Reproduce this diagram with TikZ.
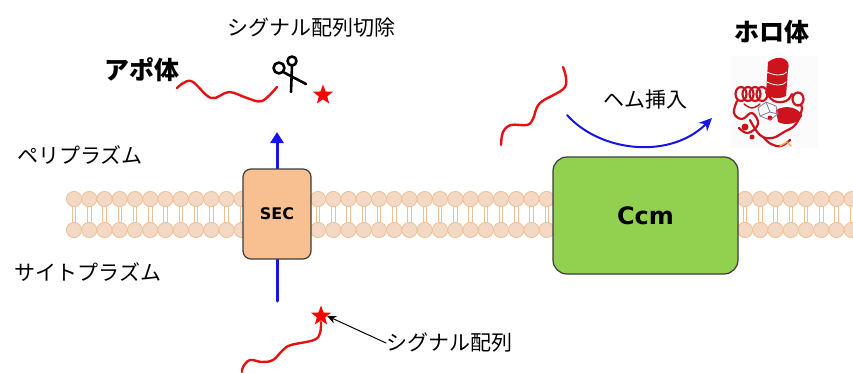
\documentclass[tikz,border=0pt]{standalone}
\usepackage{fontspec}
\newfontfamily\jpfont{Noto Sans CJK JP}
\newfontfamily\latfont{DejaVu Sans}
\usetikzlibrary{arrows.meta,shapes.geometric}

\definecolor{headfill}{RGB}{243,217,195}
\definecolor{headline}{RGB}{238,192,152}
\definecolor{secfill}{RGB}{248,192,144}
\definecolor{ccmfill}{RGB}{146,208,80}
\definecolor{boxline}{RGB}{60,60,60}
\definecolor{pathblue}{RGB}{20,20,235}
\definecolor{chainred}{RGB}{228,18,18}
\definecolor{ribbonred}{RGB}{205,20,30}
\definecolor{hemegray}{RGB}{120,120,165}

\tikzset{
  jplabel/.style={font=\jpfont\fontsize{21}{21}\selectfont, inner sep=0pt},
  jpbold/.style={font=\jpfont\bfseries\fontsize{25}{25}\selectfont, inner sep=0pt},
  protbox/.style={draw=boxline, line width=1.2pt, inner sep=0pt},
  lipidhead/.style={fill=headfill, draw=headline, line width=0.8pt},
  lipidtail/.style={draw=headline, line width=0.7pt},
  chain/.style={chainred, line width=2.4pt},
  signalmark/.style={star, star points=5, star point ratio=2.4, fill=red, draw=none,
    minimum size=21pt, inner sep=0pt},
  transport/.style={pathblue, line width=3pt}
}

\begin{document}
\begin{tikzpicture}[line cap=round,line join=round,x=1pt,y=-1pt]
  \useasboundingbox (0,0) rectangle (853,372);

  % lipid bilayer
  \foreach \i in {0,...,51}{
    \pgfmathsetmacro\hx{74+15.25*\i}
    \draw[lipidtail] (\hx-1.7,206) -- (\hx-1.7,223) (\hx+1.7,206) -- (\hx+1.7,223);
    \draw[lipidhead] (\hx,199) circle (7.6);
    \draw[lipidhead] (\hx,230) circle (7.6);
  }

  % translocation through SEC
  \coordinate (secin) at (277,301);
  \coordinate (secout) at (277,132);
  \draw[transport, -{Triangle[length=11pt,width=13pt]}] (secin) -- (secout);

  \node[protbox, fill=secfill, rounded corners=8pt, minimum width=68pt, minimum height=90pt,
    font=\latfont\bfseries\fontsize{16}{16}\selectfont] (sec) at (277,214) {SEC};
  \node[protbox, fill=ccmfill, rounded corners=14pt, minimum width=185pt, minimum height=117pt,
    font=\latfont\bfseries\fontsize{24}{24}\selectfont] (ccm) at (645.5,215.5) {Ccm};

  % compartment labels
  \node[jplabel] (peri) at (80,155) {ペリプラズム};
  \node[jplabel] (cyto) at (88,272) {サイトプラズム};

  % precursor with signal peptide (cytoplasm)
  \node[signalmark] (sigstar) at (321,316) {};
  \draw[chain] plot[smooth, tension=0.6] coordinates {(321,322) (320,333) (314,340) (291,345)
    (283,350) (273,360) (262,362) (250,360) (243,367) (242,372)};
  \node[jplabel, anchor=west] (siglabel) at (386,343) {シグナル配列};
  \draw[line width=1pt, -{Stealth[length=9pt,width=8pt]}] (siglabel.west) -- (sigstar.east);

  % apo form and cleaved signal (periplasm)
  \node[jpbold] (apo) at (142,70) {アポ体};
  \draw[chain] plot[smooth, tension=0.6] coordinates {(177,88) (191,81) (211,98) (229,92)
    (247,98) (262,101) (277,87)};
  \node[jplabel] (cut) at (311,28) {シグナル配列切除};
  \node[signalmark] (freestar) at (323,95) {};
  % scissors
  \draw[line width=2.6pt] (279,68) circle (5.5) (292,61) circle (4.5);
  \draw[line width=2.6pt] (284,72.5) -- (306,84) (292,66) -- (291,92);

  % heme insertion by Ccm
  \draw[chain] plot[smooth, tension=0.6] coordinates {(563,67) (565,87) (540,103) (533,119)
    (527,125) (511,125) (503,132) (501,145)};
  \coordinate (hemfrom) at (567,115);
  \coordinate (hemto) at (712,118);
  \draw[pathblue, line width=2pt, -{Stealth[length=13pt,width=12pt]}]
    (hemfrom) .. controls (600,152) and (670,160) .. (hemto);
  \node[jplabel] (heme) at (645,100) {ヘム挿入};

  % holo form (ribbon model)
  \node[jpbold] (holo) at (772,32) {ホロ体};
  \fill[gray!3] (731,56) rectangle (818,148);
  \begin{scope}[ribbonred, line width=2.2pt]
    % central helix
    \fill (768,62) .. controls (778,54) and (792,58) .. (788,70) -- (786,96)
      .. controls (778,100) and (770,98) .. (766,94) -- cycle;
    \draw[white, line width=0.8pt] (767,72) .. controls (775,76) and (783,76) .. (787,72)
      (767,82) .. controls (775,86) and (783,86) .. (786,82);
    % end-on helix on the left
    \foreach \xx in {741,748,755,762}{
      \draw (\xx,94) ellipse (5.5 and 7);
    }
    % small helix on the right
    \draw (798,99) ellipse (5.5 and 6.5);
    % lower right helix
    \fill (776,110) .. controls (786,104) and (800,108) .. (802,116)
      .. controls (798,124) and (786,126) .. (778,122) -- cycle;
    % loops
    \draw plot[smooth, tension=0.7] coordinates {(737,101) (734,113) (742,119) (752,113)
      (758,124) (748,133) (739,128)};
    \draw plot[smooth, tension=0.7] coordinates {(750,120) (760,135) (772,138) (784,132)
      (796,124) (802,108) (798,105)};
    \draw plot[smooth, tension=0.7] coordinates {(766,92) (774,101) (786,101) (792,94)};
    \draw plot[smooth, tension=0.7] coordinates {(764,138) (771,144) (781,146) (790,140)};
    \draw[line width=1.4pt] plot[smooth, tension=0.7] coordinates {(744,104) (752,108) (760,104)};
    \fill (745,127) circle (3.5) (770,118) circle (2.5) (752,137) circle (2.5);
  \end{scope}
  \draw[orange!70, line width=1.4pt] (780,146) -- (787,142) -- (791,146);
  \begin{scope}[hemegray, line width=0.8pt]
    \draw (758,108) -- (766,102) -- (776,106) -- (778,114) -- (770,120) -- (760,116) -- cycle;
    \draw (766,102) -- (770,112) -- (778,114) (760,116) -- (770,112);
  \end{scope}
\end{tikzpicture}
\end{document}
